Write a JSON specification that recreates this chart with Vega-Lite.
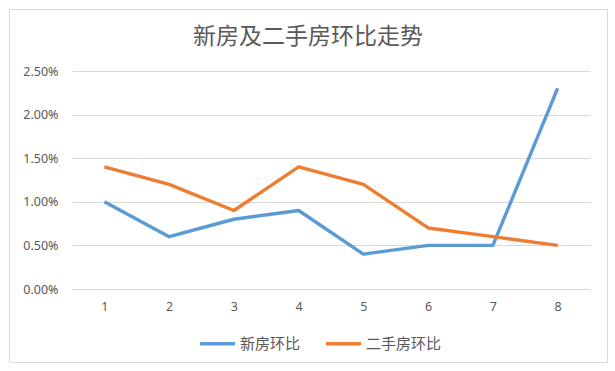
{
  "$schema": "https://vega.github.io/schema/vega-lite/v6.json",
  "autosize": "none",
  "padding": {"left": 9, "top": 9, "right": 8, "bottom": 9},
  "width": 598,
  "height": 353,
  "background": "white",
  "title": {
    "text": "新房及二手房环比走势",
    "offset": -40,
    "fontSize": 23,
    "fontWeight": "normal",
    "color": "#595959",
    "font": "Noto Sans CJK SC",
    "anchor": "middle"
  },
  "data": {
    "values": [
      {"x": 1, "series": "新房环比", "v": 0.010},
      {"x": 2, "series": "新房环比", "v": 0.006},
      {"x": 3, "series": "新房环比", "v": 0.008},
      {"x": 4, "series": "新房环比", "v": 0.009},
      {"x": 5, "series": "新房环比", "v": 0.004},
      {"x": 6, "series": "新房环比", "v": 0.005},
      {"x": 7, "series": "新房环比", "v": 0.005},
      {"x": 8, "series": "新房环比", "v": 0.023},
      {"x": 1, "series": "二手房环比", "v": 0.014},
      {"x": 2, "series": "二手房环比", "v": 0.012},
      {"x": 3, "series": "二手房环比", "v": 0.009},
      {"x": 4, "series": "二手房环比", "v": 0.014},
      {"x": 5, "series": "二手房环比", "v": 0.012},
      {"x": 6, "series": "二手房环比", "v": 0.007},
      {"x": 7, "series": "二手房环比", "v": 0.006},
      {"x": 8, "series": "二手房环比", "v": 0.005}
    ]
  },
  "mark": {"type": "line", "strokeWidth": 3.4, "strokeJoin": "round"},
  "encoding": {
    "x": {
      "field": "x",
      "type": "ordinal",
      "scale": {"type": "point", "range": [63, 581], "padding": 0.5},
      "axis": {
        "title": null,
        "labelAngle": 0,
        "domain": false,
        "ticks": false,
        "grid": false,
        "offset": -73,
        "labelPadding": 11,
        "labelFontSize": 12.5,
        "labelColor": "#595959",
        "labelFont": "Noto Sans"
      }
    },
    "y": {
      "field": "v",
      "type": "quantitative",
      "scale": {"domain": [0, 0.025], "range": [280, 62], "nice": false, "zero": true},
      "axis": {
        "title": null,
        "values": [0, 0.005, 0.01, 0.015, 0.02, 0.025],
        "format": ".2%",
        "domain": false,
        "ticks": false,
        "grid": true,
        "gridColor": "#d9d9d9",
        "gridWidth": 1,
        "offset": -63,
        "labelPadding": 14,
        "labelFontSize": 12.5,
        "labelColor": "#595959",
        "labelFont": "Noto Sans"
      }
    },
    "color": {
      "field": "series",
      "type": "nominal",
      "sort": ["新房环比", "二手房环比"],
      "scale": {"domain": ["新房环比", "二手房环比"], "range": ["#5B9BD5", "#ED7D31"]},
      "legend": {
        "title": null,
        "orient": "none",
        "direction": "horizontal",
        "legendX": 189,
        "legendY": 315,
        "symbolType": "stroke",
        "symbolSize": 1225,
        "symbolStrokeWidth": 3.5,
        "labelFontSize": 15,
        "labelColor": "#595959",
        "labelFont": "Noto Sans CJK SC",
        "labelOffset": 3,
        "columnPadding": 18
      }
    }
  },
  "config": {
    "view": {"stroke": "#d9d9d9", "strokeWidth": 1}
  }
}
